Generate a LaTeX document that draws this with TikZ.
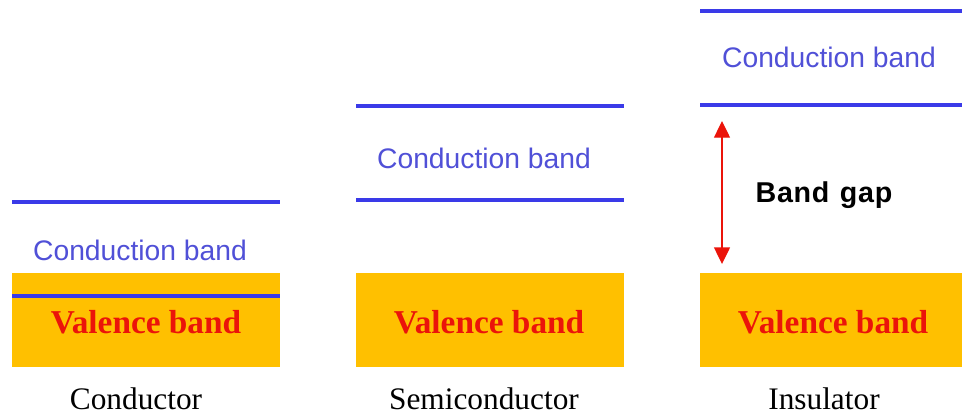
\documentclass[tikz,border=0pt]{standalone}
\usepackage{fontspec}
\setmainfont{Liberation Serif}
\setsansfont{Liberation Sans}
\usetikzlibrary{arrows.meta}
\definecolor{bandblue}{RGB}{58,58,232}
\definecolor{labelblue}{RGB}{80,80,215}
\definecolor{bandgold}{RGB}{255,192,0}
\definecolor{bandred}{RGB}{235,20,10}
\begin{document}
\begin{tikzpicture}[x=0.75pt,y=-0.75pt,
  valbox/.style={fill=bandgold,draw=none,inner sep=0pt,
    minimum height=70.5pt,anchor=north west},
  level/.style={draw=bandblue,line width=3pt},
  condlabel/.style={font=\sffamily\fontsize{21.2}{24}\selectfont,text=labelblue,inner sep=0pt},
  vallabel/.style={font=\bfseries\fontsize{25}{28}\selectfont,text=bandred,inner sep=0pt},
  kindlabel/.style={font=\fontsize{23.5}{27}\selectfont,text=black,inner sep=0pt},
  gaparrow/.style={draw=bandred,line width=1pt,{Triangle[width=12pt,length=12.5pt]}-{Triangle[width=12pt,length=12.5pt]}}]
\useasboundingbox (0,0) rectangle (962,419);

% Conductor: conduction band overlaps the valence band
\node[valbox,minimum width=201pt] (cval) at (12,273) {};
\draw[level] (12,202) coordinate (ctopL) -- (280,202) coordinate (ctopR);
\draw[level] (12,296) coordinate (cbotL) -- (280,296) coordinate (cbotR);
\node[condlabel] (ccond) at (140,250) {Conduction band};
\node[vallabel] (cvaltxt) at (146,322) {Valence band};
\node[kindlabel] (ckind) at (136,399) {Conductor};

% Semiconductor: small gap
\node[valbox,minimum width=201pt] (sval) at (356,273) {};
\draw[level] (356,106) coordinate (stopL) -- (624,106) coordinate (stopR);
\draw[level] (356,200) coordinate (sbotL) -- (624,200) coordinate (sbotR);
\node[condlabel] (scond) at (484,158) {Conduction band};
\node[vallabel] (svaltxt) at (489,322) {Valence band};
\node[kindlabel] (skind) at (484,399) {Semiconductor};

% Insulator: large gap
\node[valbox,minimum width=196.5pt] (ival) at (700,273) {};
\draw[level] (700,11) coordinate (itopL) -- (962,11) coordinate (itopR);
\draw[level] (700,105) coordinate (ibotL) -- (962,105) coordinate (ibotR);
\node[condlabel] (icond) at (829,57) {Conduction band};
\node[vallabel] (ivaltxt) at (833,322) {Valence band};
\node[kindlabel] (ikind) at (824,399) {Insulator};

\coordinate (gaptop) at (722,121);
\coordinate (gapbot) at (722,264);
\draw[gaparrow] (gaptop) -- (gapbot);
\node[font=\sffamily\bfseries\fontsize{21.5}{24}\selectfont,inner sep=0pt] (gaptxt) at (824,195) {B\kern0.5pt a\kern0.5pt n\kern0.5pt d\kern2pt\ g\kern0.5pt a\kern0.5pt p};
\end{tikzpicture}
\end{document}
